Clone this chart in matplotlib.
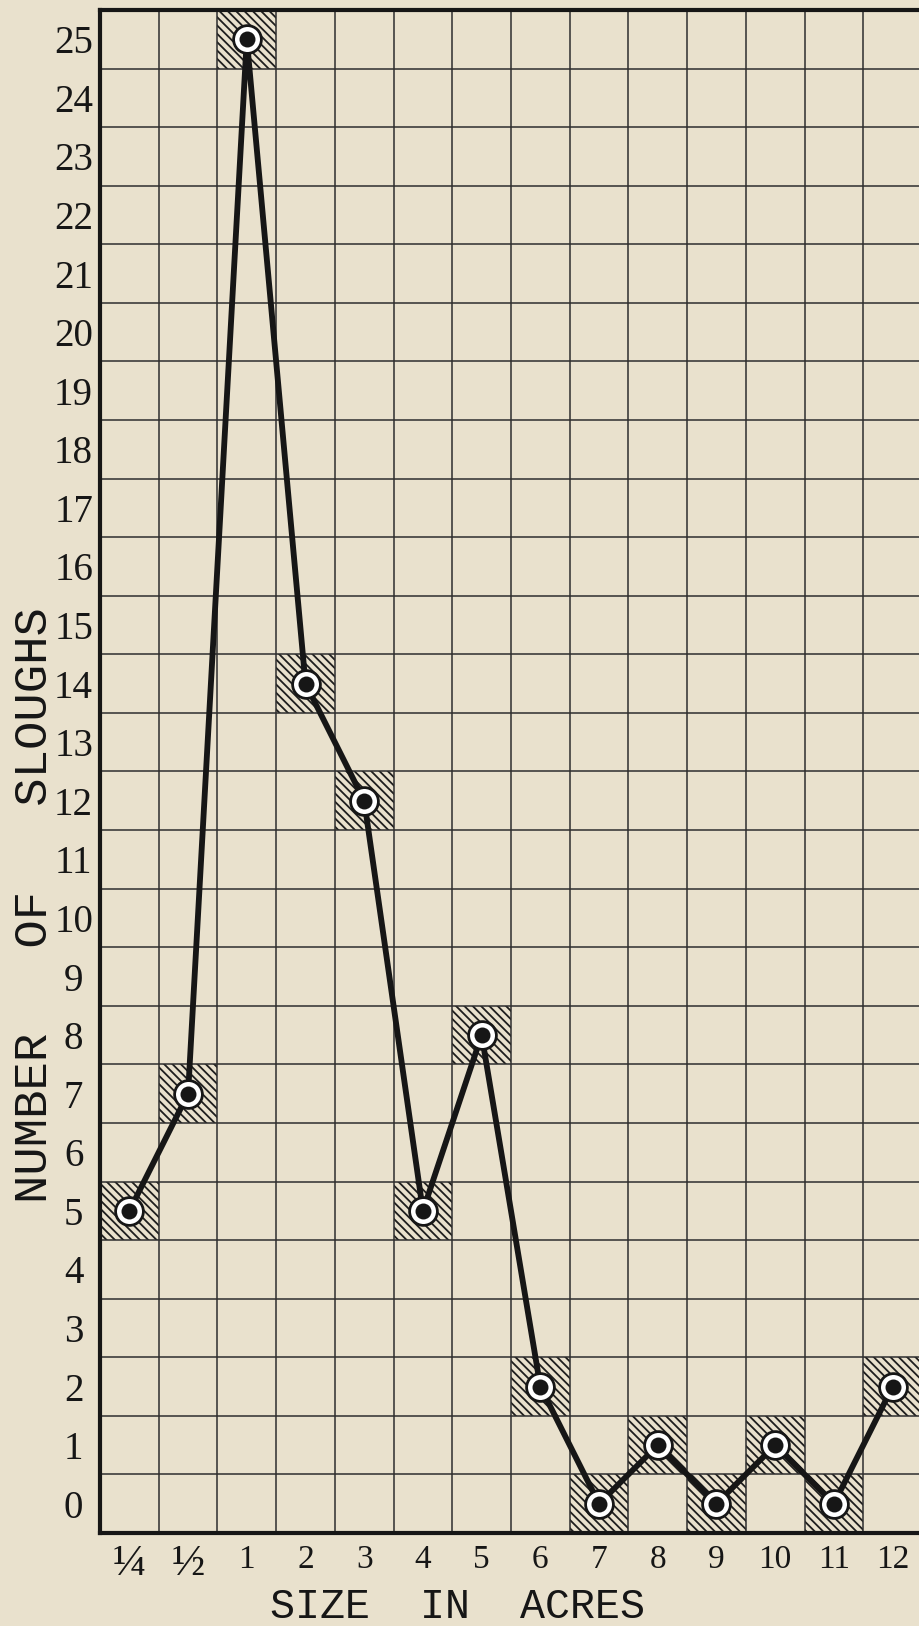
import matplotlib
matplotlib.use('Agg')
import matplotlib.pyplot as plt

# ---- data ----
size_labels = ['¼', '½', '1', '2', '3', '4', '5', '6', '7', '8', '9', '10', '11', '12']
sloughs = [5, 7, 25, 14, 12, 5, 8, 2, 0, 1, 0, 1, 0, 2]
y_values = list(range(0, 26))
x_title = 'SIZE  IN  ACRES'
y_title = 'NUMBER   OF   SLOUGHS'

BG = '#e9e1cd'
INK = '#161616'
GRID = '#2e2e2e'

plt.rcParams['hatch.linewidth'] = 1.3
plt.rcParams['hatch.color'] = '#1e1e1e'

W, H = 919, 1626
fig = plt.figure(figsize=(W / 100, H / 100), dpi=100, facecolor=BG)
ax = fig.add_axes([100 / W, 93 / H, 822 / W, 1523 / H])
ax.set_facecolor(BG)

x = list(range(len(size_labels)))
ax.set_xlim(-0.5, len(size_labels) - 0.5)
ax.set_ylim(-0.5, len(y_values) - 0.5)

# grid on cell boundaries
ax.set_xticks([i - 0.5 for i in range(1, len(size_labels))], minor=True)
ax.set_yticks([v + 0.5 for v in y_values[:-1]], minor=True)
ax.grid(which='minor', color=GRID, linewidth=1.1, zorder=1.5)
ax.grid(which='major', visible=False)

# hatched cells around each data point
ax.bar(x, [1] * len(x), bottom=[v - 0.5 for v in sloughs], width=1.0,
       fill=False, hatch='\\\\\\\\', edgecolor='#1e1e1e', linewidth=0, zorder=1)

# connecting line
ax.plot(x, sloughs, color=INK, linewidth=4.2, solid_joinstyle='round', zorder=3)
# bull's-eye markers
ax.plot(x, sloughs, 'o', ms=22, mfc=INK, mec='none', zorder=4)
ax.plot(x, sloughs, 'o', ms=18, mfc='white', mec='none', zorder=5)
ax.plot(x, sloughs, 'o', ms=11.5, mfc=INK, mec='none', zorder=6)

# ticks
ax.set_xticks(x)
ax.set_xticklabels(size_labels, fontfamily='Liberation Serif', fontsize=24, color=INK)
for lab in ax.get_xticklabels():
    if lab.get_text() in ('¼', '½'):
        lab.set_fontsize(32)
ax.set_yticks(y_values)
ax.set_yticklabels([str(v) for v in y_values], fontfamily='Liberation Serif', fontsize=28, color=INK)
for lab in ax.get_yticklabels():
    lab.set_horizontalalignment('center')
ax.tick_params(axis='y', which='major', length=0, pad=19)
ax.tick_params(axis='x', which='major', length=0, pad=8)
ax.tick_params(which='minor', length=0)

for s in ax.spines.values():
    s.set_linewidth(3.0)
    s.set_color(INK)
    s.set_zorder(7)

# axis titles
fig.text(458 / W, 8 / H, x_title, ha='center', va='baseline',
         fontfamily='Liberation Mono', fontsize=30, color=INK)
fig.text(47 / W, 1 - 905 / H, y_title, ha='center', va='baseline', rotation=90,
         rotation_mode='anchor', fontfamily='Liberation Mono',
         fontsize=34, color=INK)

fig.savefig('out.png', dpi=100, facecolor=BG)
